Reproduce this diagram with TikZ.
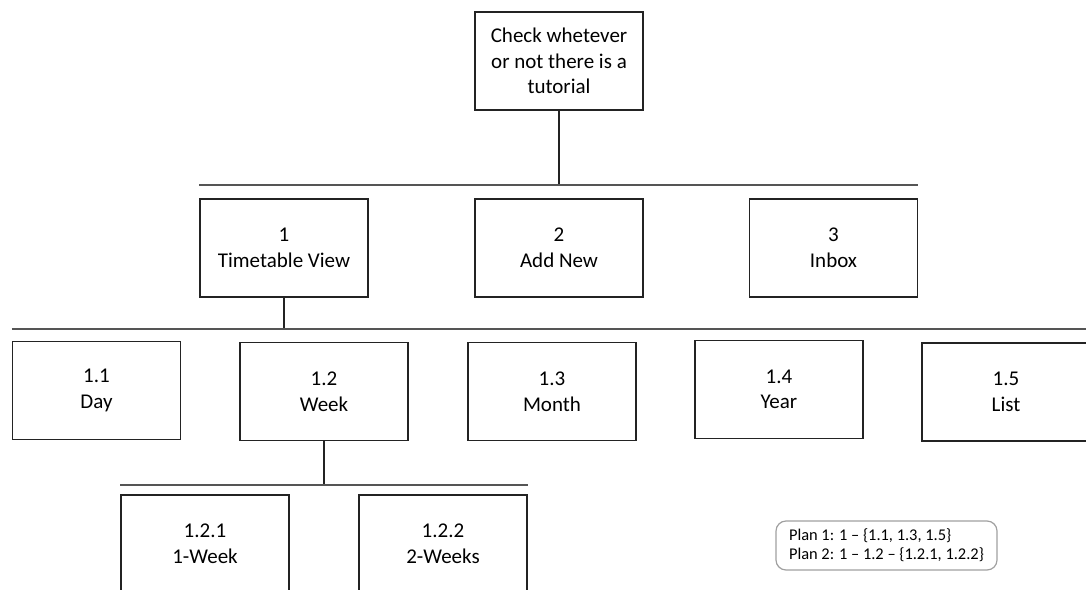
\documentclass[tikz,border=0pt]{standalone}
\usepackage{fontspec}
\setmainfont{Carlito}
\definecolor{boxline}{RGB}{35, 35, 35}
\definecolor{busline}{RGB}{85, 85, 85}
\definecolor{planline}{RGB}{160, 160, 160}
\usetikzlibrary{positioning, calc}

\begin{document}
\begin{tikzpicture}[x=0.5pt, y=-0.5pt,
  taskbox/.style={draw=boxline, line width=0.7pt, minimum width=84pt, minimum height=49pt, align=center, inner sep=2pt, font=\fontsize{10.5}{12.8}\selectfont},
  busbar/.style={draw=busline, line width=0.9pt},
  stem/.style={draw=boxline, line width=0.6pt}]
  \useasboundingbox (0,0) rectangle (1086,589);

  \node[taskbox] (root) at (559,61) {Check whetever\\or not there is a\\tutorial};

  \node[taskbox] (tt) at (284,248) {1\\Timetable View};
  \node[taskbox] (addnew) at (559,248) {2\\Add New};
  \node[taskbox] (inbox) at (833.5,248) {3\\Inbox};

  \node[taskbox] (day) at (96.5,390.5) {1.1\\Day};
  \node[taskbox] (week) at (324,391.5) {1.2\\Week};
  \node[taskbox] (month) at (552,391.5) {1.3\\Month};
  \node[taskbox] (year) at (779,389.5) {1.4\\Year};
  \node[taskbox] (list) at (1006,392) {1.5\\List};

  \node[taskbox] (oneweek) at (205,544) {1.2.1\\1-Week};
  \node[taskbox] (twoweeks) at (443,544) {1.2.2\\2-Weeks};

  \node[draw=planline, line width=0.6pt, rounded corners=5pt, minimum width=110.5pt, minimum height=24.5pt, align=left, inner sep=3pt, font=\fontsize{8.2}{9.6}\selectfont] (plan) at (886.5,545.5) {Plan 1: 1 -- \{1.1, 1.3, 1.5\}\\Plan 2: 1 -- 1.2 -- \{1.2.1, 1.2.2\}};

  \coordinate (busA) at (559,185);
  \coordinate (busB) at (284,329);
  \coordinate (busC) at (324,485);

  \draw[stem] (root.south) -- (busA);
  \draw[busbar] (tt.north west |- busA) -- (inbox.north east |- busA);

  \draw[stem] (tt.south) -- (busB);
  \draw[busbar] (day.north west |- busB) -- (list.north east |- busB);

  \draw[stem] (week.south) -- (busC);
  \draw[busbar] (oneweek.north west |- busC) -- (twoweeks.north east |- busC);
\end{tikzpicture}
\end{document}
